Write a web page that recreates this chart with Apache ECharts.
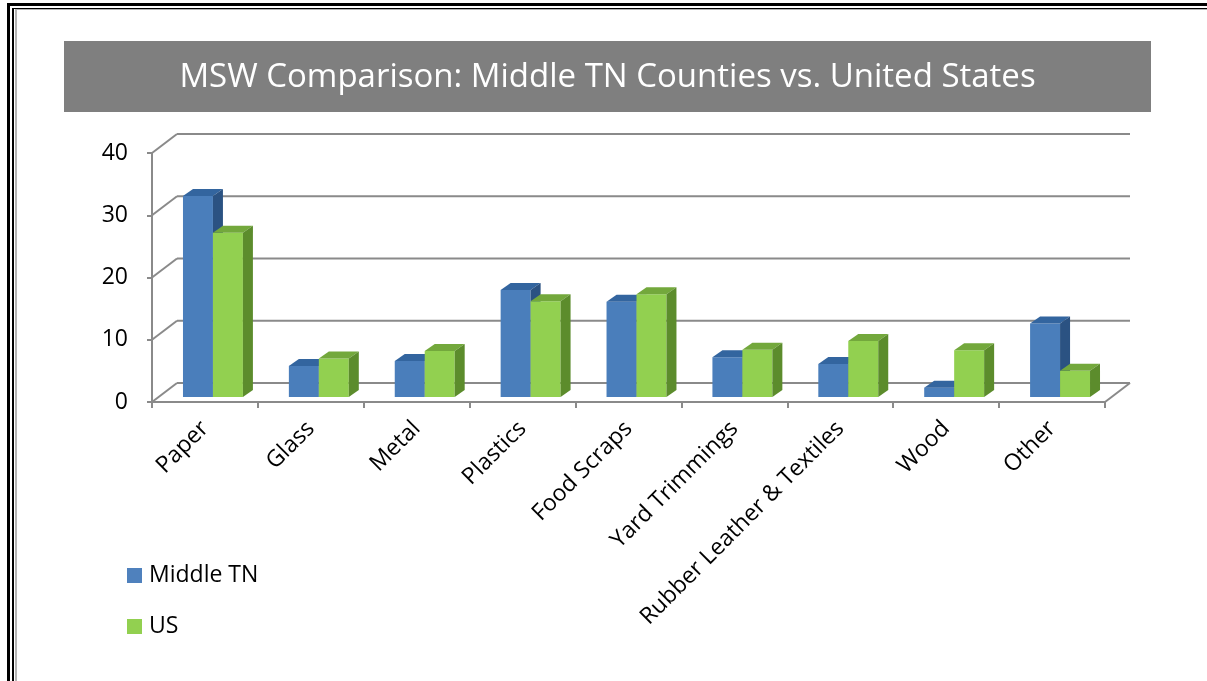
<!DOCTYPE html>
<html>
<head>
<meta charset="utf-8">
<script src="https://cdn.jsdelivr.net/npm/echarts@6/dist/echarts.min.js"></script>
<style>
  html, body { margin: 0; padding: 0; background: #fff; }
  #chart { width: 1207px; height: 681px; }
</style>
</head>
<body>
<div id="chart"></div>
<script>
// MSW composition (% by weight)
const categories = ['Paper', 'Glass', 'Metal', 'Plastics', 'Food Scraps', 'Yard Trimmings',
  'Rubber Leather & Textiles', 'Wood', 'Other'];
const middleTN = [32.3, 5.0, 5.8, 17.2, 15.3, 6.4, 5.3, 1.5, 11.8];
const unitedStates = [26.4, 6.2, 7.4, 15.4, 16.5, 7.6, 9.0, 7.5, 4.2];
const yTicks = [0, 10, 20, 30, 40];
const titleText = 'MSW Comparison: Middle TN Counties vs. United States';

const FONT = '"Open Sans", "Noto Sans", sans-serif';
const GRID_COLOR = '#8a8a8a';

// depth of the back wall (oblique projection)
const WALL_DX = 25, WALL_DY = -19;
// where the bars stand inside the floor, and how deep they are
const BAR_POS_DX = 8, BAR_POS_DY = -5;
const BAR_DX = 10, BAR_DY = -7;
const BAR_FRACTION = 0.283;

const palette = {
  blue:  { front: '#4A7EBB', top: '#33659F', side: '#2B5282' },
  green: { front: '#92D050', top: '#73A83C', side: '#5C8C2C' }
};

function wallItem(params, api) {
  const v = api.value(0);
  const y = api.coord([0, v])[1];
  const cs = params.coordSys;
  const x0 = cs.x, x1 = cs.x + cs.width;
  const style = { stroke: GRID_COLOR, lineWidth: 2 };
  const children = [
    { type: 'line', shape: { x1: x0, y1: y, x2: x0 + WALL_DX, y2: y + WALL_DY }, style: style },
    { type: 'line', shape: { x1: x0 + WALL_DX, y1: y + WALL_DY, x2: x1 + WALL_DX, y2: y + WALL_DY }, style: style }
  ];
  if (v === 0) {
    children.push({ type: 'line', shape: { x1: x1, y1: y, x2: x1 + WALL_DX, y2: y + WALL_DY }, style: style });
  }
  return { type: 'group', silent: true, children: children };
}

function barRenderer(colors, side) {
  return function (params, api) {
    const i = api.value(0);
    const v = api.value(1);
    const top = api.coord([i, v]);
    const base = api.coord([i, 0]);
    const band = api.size([1, 0])[0];
    const w = band * BAR_FRACTION;
    const left = (side === 0 ? top[0] - w : top[0]) + BAR_POS_DX;
    const right = left + w;
    const yT = top[1] + BAR_POS_DY;
    const yB = base[1] + BAR_POS_DY;
    return {
      type: 'group',
      children: [
        { type: 'rect', shape: { x: left, y: yT, width: w, height: yB - yT },
          style: { fill: colors.front } },
        { type: 'polygon', shape: { points: [[left, yT], [right, yT], [right + BAR_DX, yT + BAR_DY], [left + BAR_DX, yT + BAR_DY]] },
          style: { fill: colors.top } },
        { type: 'polygon', shape: { points: [[right, yT], [right + BAR_DX, yT + BAR_DY], [right + BAR_DX, yB + BAR_DY], [right, yB]] },
          style: { fill: colors.side } }
      ]
    };
  };
}

const chart = echarts.init(document.getElementById('chart'), null, { renderer: 'canvas' });

chart.setOption({
  animation: false,
  backgroundColor: '#ffffff',
  textStyle: { fontFamily: FONT },
  graphic: [
    // page frame
    { type: 'rect', z: 0, shape: { x: 7, y: 3, width: 3, height: 700 }, style: { fill: '#000' } },
    { type: 'rect', z: 0, shape: { x: 7, y: 3, width: 1210, height: 3 }, style: { fill: '#000' } },
    { type: 'rect', z: 0, shape: { x: 12, y: 8, width: 2, height: 700 }, style: { fill: '#000' } },
    { type: 'rect', z: 0, shape: { x: 12, y: 8, width: 1210, height: 1 }, style: { fill: '#000' } },
    { type: 'rect', z: 0, shape: { x: 15, y: 10, width: 2, height: 700 }, style: { fill: '#b4b4b4' } },
    { type: 'rect', z: 0, shape: { x: 15, y: 9, width: 1210, height: 1 }, style: { fill: '#b4b4b4' } },
    // title banner
    { type: 'rect', z: 0, shape: { x: 64, y: 41, width: 1087, height: 71 }, style: { fill: '#7f7f7f' } },
    { type: 'text', z: 1, x: 607.5, y: 78,
      style: { text: titleText, fill: '#ffffff', font: '33px ' + FONT, align: 'center', verticalAlign: 'middle' } }
  ],
  legend: {
    orient: 'vertical',
    left: 122,
    top: 559,
    itemWidth: 15,
    itemHeight: 15,
    itemGap: 28,
    icon: 'rect',
    textStyle: { fontSize: 23, color: '#000', fontFamily: FONT, padding: [0, 0, 0, 2] },
    data: ['Middle TN', 'US']
  },
  grid: { left: 152, right: 102, top: 153, bottom: 279 },
  xAxis: {
    type: 'category',
    data: categories,
    boundaryGap: true,
    axisLine: { show: true, lineStyle: { color: GRID_COLOR, width: 2 } },
    axisTick: { show: true, length: 6, lineStyle: { color: GRID_COLOR, width: 2 } },
    axisLabel: { interval: 0, rotate: 45, margin: 23, fontSize: 23, color: '#000', fontFamily: FONT },
    splitLine: { show: false }
  },
  yAxis: {
    type: 'value',
    min: 0,
    max: 40,
    interval: 10,
    axisLine: { show: true, lineStyle: { color: GRID_COLOR, width: 2 } },
    axisTick: { show: true, length: 5, lineStyle: { color: GRID_COLOR, width: 2 } },
    axisLabel: { margin: 24, fontSize: 23, color: '#000', fontFamily: FONT },
    splitLine: { show: false }
  },
  series: [
    {
      name: 'wall',
      type: 'custom',
      clip: false,
      silent: true,
      z: 1,
      data: yTicks.map(v => [v]),
      encode: { y: 0 },
      renderItem: wallItem
    },
    {
      name: 'Middle TN',
      type: 'custom',
      clip: false,
      z: 2,
      itemStyle: { color: '#4F81BD' },
      data: middleTN.map((v, i) => [i, v]),
      encode: { x: 0, y: 1 },
      renderItem: barRenderer(palette.blue, 0)
    },
    {
      name: 'US',
      type: 'custom',
      clip: false,
      z: 3,
      itemStyle: { color: '#92D050' },
      data: unitedStates.map((v, i) => [i, v]),
      encode: { x: 0, y: 1 },
      renderItem: barRenderer(palette.green, 1)
    }
  ]
});
</script>
</body>
</html>
